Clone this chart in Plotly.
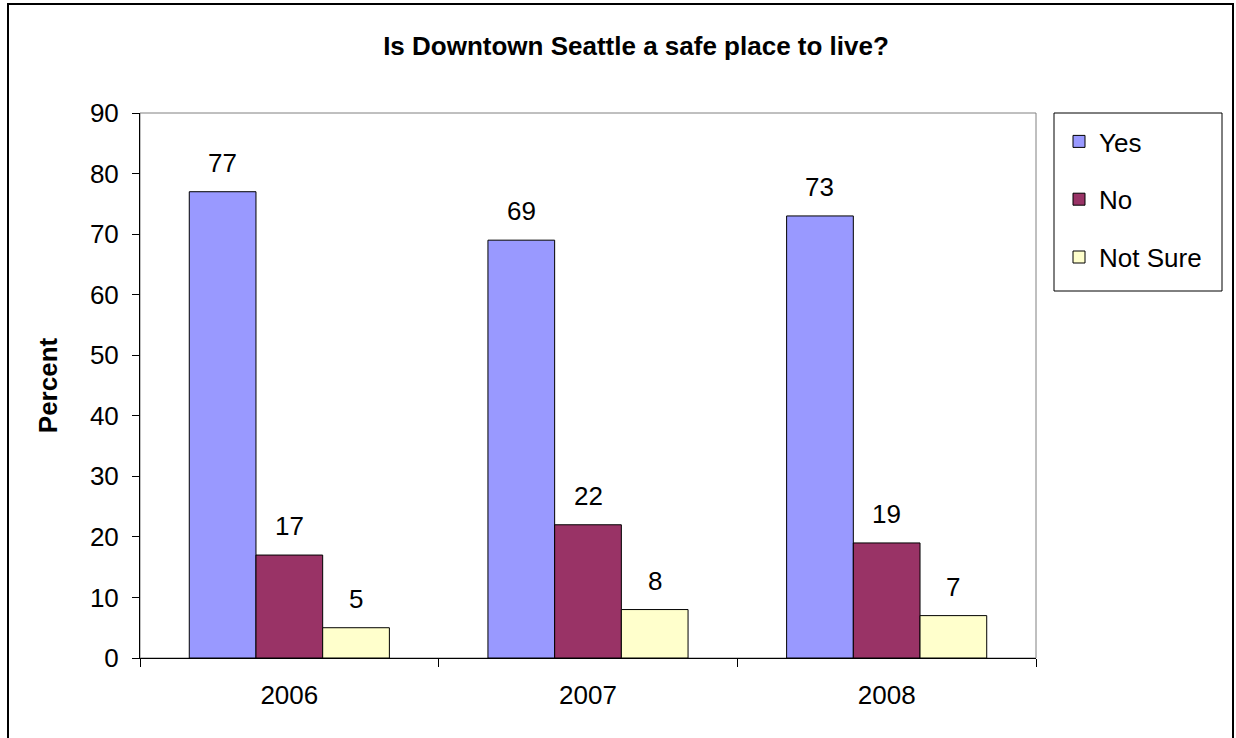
import plotly.graph_objects as go

years = ["2006", "2007", "2008"]
yes = [77, 69, 73]
no = [17, 22, 19]
not_sure = [5, 8, 7]
series_names = ["Yes", "No", "Not Sure"]
colors = ["#9999FF", "#993366", "#FFFFCC"]

FONT = "Liberation Sans, Arial, sans-serif"
FS = 26

W, H = 1236, 738
L, R, T, B = 140, 200, 113, 80
pw, ph = W - L - R, H - T - B
BAR_PX = pw / 3 * (1 - 0.33) / 3

def px_x(p):
    return (p - L) / pw

def px_y(p):
    return (H - B - p) / ph

fig = go.Figure()
annotations = []
for i, (name, vals, col) in enumerate(zip(series_names, [yes, no, not_sure], colors)):
    fig.add_trace(go.Bar(
        x=years, y=vals, name=name,
        marker=dict(color=col, line=dict(color="black", width=1)),
        cliponaxis=False, legendgroup=name,
    ))
    for j, v in enumerate(vals):
        annotations.append(dict(
            x=j, y=v, xref="x", yref="y", text=str(v), showarrow=False,
            xshift=(i - 1) * BAR_PX, yshift=12, yanchor="bottom",
            font=dict(size=FS, family=FONT, color="black")))

fig.update_layout(
    width=W, height=H,
    margin=dict(l=L, r=R, t=T, b=B, autoexpand=False),
    paper_bgcolor="white", plot_bgcolor="white",
    barmode="group", bargap=0.33, bargroupgap=0,
    font=dict(family=FONT, size=FS, color="black"),
    title=dict(text="<b>Is Downtown Seattle a safe place to live?</b>",
               x=px_x(636), xref="paper", xanchor="center",
               y=1 - 46 / H, yanchor="middle",
               font=dict(size=FS, family=FONT, color="black")),
    showlegend=True,
    legend=dict(x=px_x(1059), y=px_y(118), xanchor="left", yanchor="top",
                bgcolor="rgba(0,0,0,0)", borderwidth=0,
                traceorder="grouped", tracegroupgap=21,
                font=dict(size=FS, family=FONT, color="black"),
                itemwidth=30),
    xaxis=dict(type="category", range=[-0.5, 2.5], showgrid=False, showline=True,
               linecolor="black", linewidth=1,
               ticks="outside", ticklen=8, tickcolor="black", tickson="boundaries",
               ticklabelstandoff=14, tickangle=0,
               tickfont=dict(size=FS, family=FONT, color="black")),
    yaxis=dict(range=[0, 90], dtick=10, showgrid=False, showline=True,
               linecolor="black", linewidth=1, ticks="outside", ticklen=7,
               tickcolor="black", zeroline=False, ticklabelstandoff=8,
               tickfont=dict(size=FS, family=FONT, color="black"),
               title=dict(text="<b>Percent</b>", standoff=24,
                          font=dict(size=FS, family=FONT, color="black"))),
    annotations=annotations,
    shapes=[
        dict(type="rect", xref="paper", yref="paper", x0=0, y0=0, x1=1, y1=1,
             line=dict(color="#808080", width=1), layer="below"),
        dict(type="rect", xref="paper", yref="paper",
             x0=px_x(1054), x1=px_x(1222), y0=px_y(291), y1=px_y(113),
             line=dict(color="black", width=1), layer="below"),
        dict(type="rect", xref="paper", yref="paper",
             x0=px_x(8), x1=px_x(1233), y0=px_y(760), y1=px_y(4),
             line=dict(color="black", width=2), layer="below"),
    ],
)

fig.write_html("out.html", config={"displayModeBar": False},
               post_script="document.body.style.margin='0';document.body.style.padding='0';")
